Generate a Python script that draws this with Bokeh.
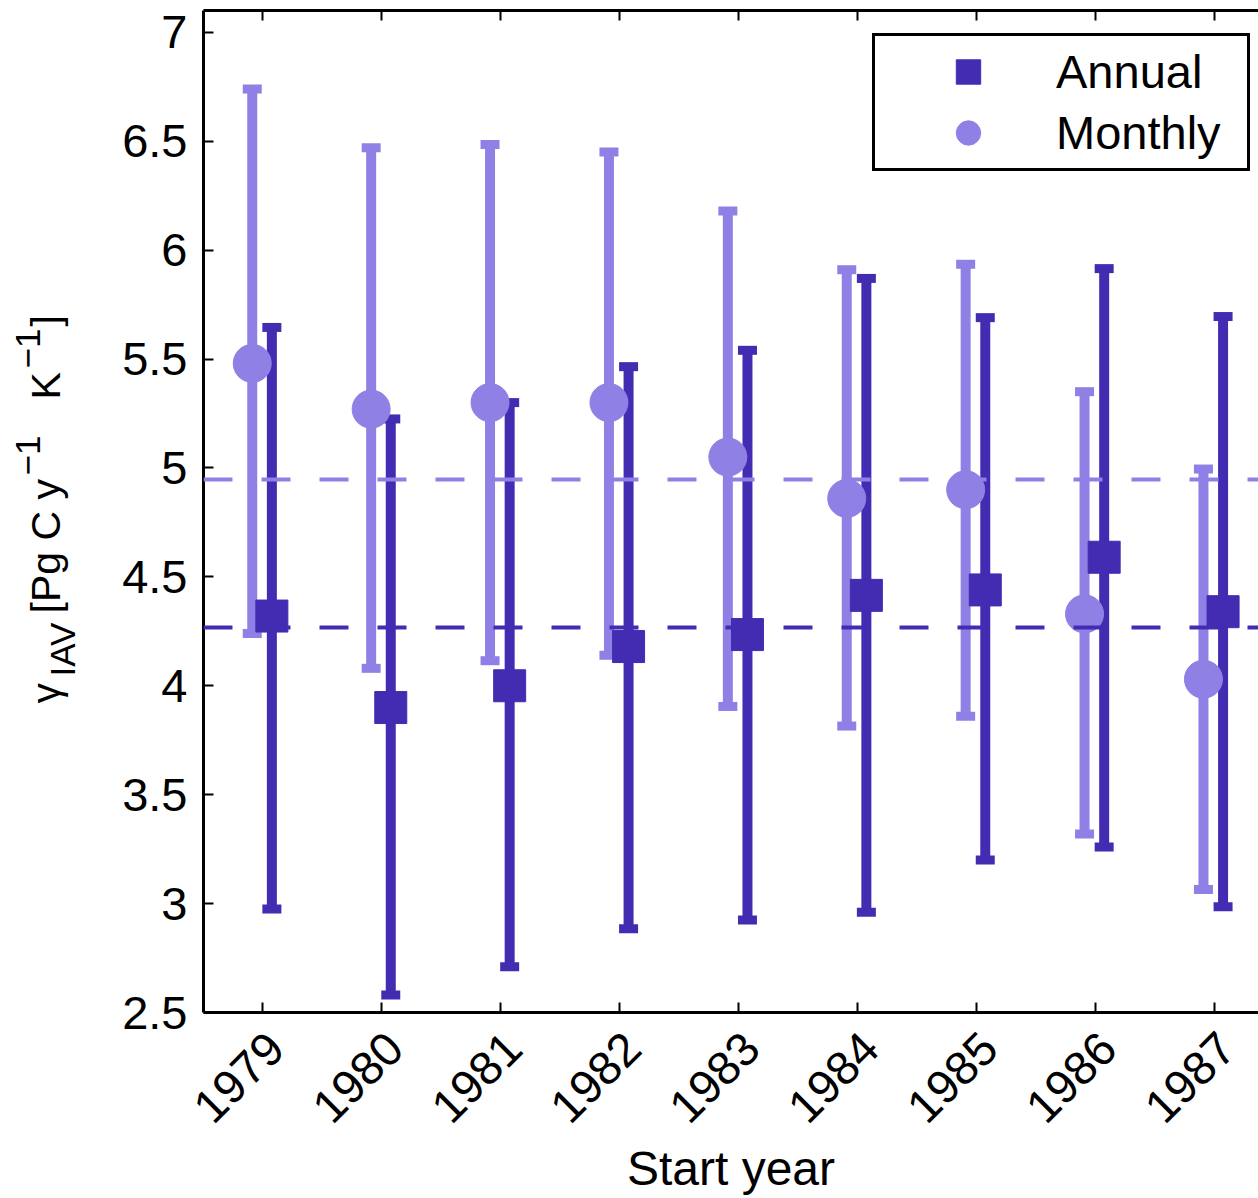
import math
from bokeh.plotting import figure
from bokeh.layouts import row
from bokeh.models import (ColumnDataSource, Whisker, TeeHead, Span, Legend, LegendItem,
                          FixedTicker, LinearAxis, NumeralTickFormatter, CustomJSTickFormatter,
                          Label, Range1d)
from bokeh.embed import file_html
from bokeh.resources import INLINE

# ---------------- data ----------------
years = [1979, 1980, 1981, 1982, 1983, 1984, 1985, 1986, 1987]

monthly_val = [5.48, 5.27, 5.30, 5.30, 5.05, 4.86, 4.90, 4.33, 4.03]
monthly_hi = [6.74, 6.47, 6.485, 6.45, 6.18, 5.91, 5.935, 5.35, 4.995]
monthly_lo = [4.24, 4.08, 4.115, 4.14, 3.905, 3.815, 3.86, 3.32, 3.065]

annual_val = [4.32, 3.90, 4.00, 4.18, 4.235, 4.415, 4.44, 4.59, 4.34]
annual_hi = [5.645, 5.225, 5.30, 5.465, 5.54, 5.87, 5.69, 5.915, 5.695]
annual_lo = [2.975, 2.58, 2.71, 2.885, 2.925, 2.96, 3.20, 3.26, 2.985]

monthly_mean = 4.947
annual_mean = 4.268

y_ticks = [2.5, 3, 3.5, 4, 4.5, 5, 5.5, 6, 6.5, 7]
series_names = ["Annual", "Monthly"]
x_label = "Start year"

# ---------------- style / layout ----------------
DARK = "#432cb2"
LIGHT = "#8f80e5"
FONT = "Liberation Sans"
FS = "47px"

W, H = 1258, 1198
LW = 100                   # width of the strip holding the y title
L, T = 203, 10             # frame left / top on the page
FB = 1012                  # frame bottom on the page
X0, X1 = 1978.5, 1987.373
Y0, Y1 = 2.5, 7.1
M_OFF, A_OFF = -0.09, 0.075
PPX = (W - L) / (X1 - X0)
LABEL_SHIFT = 13 / PPX     # year labels sit a little right of their ticks

p = figure(width=W - LW, height=H, x_range=Range1d(X0, X1), y_range=Range1d(Y0, Y1),
           output_backend="svg", toolbar_location=None,
           min_border_left=L - LW, min_border_right=0, min_border_top=T,
           min_border_bottom=H - FB,
           outline_line_color=None, background_fill_color="white", border_fill_color="white")
p.grid.visible = False

def style_ticks(ax, ticks):
    ax.ticker = FixedTicker(ticks=ticks)
    ax.major_tick_in = 10
    ax.major_tick_out = 0
    ax.minor_tick_in = 0
    ax.minor_tick_out = 0
    ax.axis_line_width = 3
    ax.major_tick_line_width = 2
    ax.major_label_text_font = FONT
    ax.major_label_text_font_size = FS
    ax.major_label_text_color = "black"

def no_labels(ax):
    ax.major_label_text_font_size = "0px"
    ax.major_label_text_alpha = 0
    ax.major_label_standoff = 0

# bottom spine with inward ticks
xa = p.xaxis[0]
style_ticks(xa, years)
no_labels(xa)

# second bottom axis: rotated year labels and the title (no line, no ticks)
xl = LinearAxis()
style_ticks(xl, [y + LABEL_SHIFT for y in years])
xl.formatter = CustomJSTickFormatter(code="return String(Math.round(tick - %r))" % LABEL_SHIFT)
xl.axis_line_color = None
xl.major_tick_line_color = None
xl.major_tick_in = 0
xl.major_label_orientation = math.pi / 4
xl.major_label_standoff = 28
xl.axis_label = x_label
xl.axis_label_text_font = FONT
xl.axis_label_text_font_size = "48px"
xl.axis_label_text_font_style = "normal"
xl.axis_label_text_color = "black"
xl.axis_label_standoff = 2
p.add_layout(xl, "below")

# left axis
ya = p.yaxis[0]
style_ticks(ya, y_ticks)
ya.formatter = NumeralTickFormatter(format="0.[0]")
ya.major_label_standoff = 16

# top spine with inward ticks, no labels
top = LinearAxis()
style_ticks(top, years)
no_labels(top)
p.add_layout(top, "above")

# ---------------- sources ----------------
src_m = ColumnDataSource(dict(x=[y + M_OFF for y in years], y=monthly_val,
                              hi=monthly_hi, lo=monthly_lo))
src_a = ColumnDataSource(dict(x=[y + A_OFF for y in years], y=annual_val,
                              hi=annual_hi, lo=annual_lo))

def whisker(src, color):
    return Whisker(source=src, base="x", upper="hi", lower="lo", dimension="height",
                   line_color=color, line_width=10,
                   upper_head=TeeHead(size=19, line_color=color, line_width=9),
                   lower_head=TeeHead(size=19, line_color=color, line_width=9))

p.add_layout(whisker(src_m, LIGHT))
p.add_layout(whisker(src_a, DARK))

sq = p.scatter(x="x", y="y", source=src_a, marker="square", size=32,
               fill_color=DARK, line_color=DARK)
ci = p.scatter(x="x", y="y", source=src_m, marker="circle", size=38,
               fill_color=LIGHT, line_color=LIGHT)

p.add_layout(Span(location=monthly_mean, dimension="width", line_color=LIGHT,
                  line_width=4, line_dash="29 29"))
p.add_layout(Span(location=annual_mean, dimension="width", line_color=DARK,
                  line_width=4, line_dash="29 29"))

legend = Legend(items=[LegendItem(label=series_names[0], renderers=[sq]),
                       LegendItem(label=series_names[1], renderers=[ci])],
                location=(669, 841), orientation="vertical",
                glyph_width=176, glyph_height=61, spacing=0, padding=5,
                label_standoff=0, label_width=186, label_height=61, margin=0,
                border_line_color="black", border_line_width=3, border_line_alpha=1,
                background_fill_color="white", background_fill_alpha=1,
                label_text_font=FONT, label_text_font_size=FS, label_text_color="black")
p.add_layout(legend)

# ---------------- left strip: y title with sub/superscripts ----------------
# its frame spans the same page rows as the main frame; y data = page pixel row
ylab = figure(width=LW, height=H, x_range=Range1d(0, LW), y_range=Range1d(FB, T),
              output_backend="svg", toolbar_location=None,
              min_border_left=0, min_border_right=0, min_border_top=T,
              min_border_bottom=H - FB,
              x_axis_location=None, y_axis_location=None, outline_line_color=None,
              background_fill_color="white", border_fill_color="white")
ylab.grid.visible = False

MAIN, SUB = "41px", "35px"
DX = -18
pieces = [
    ("γ", 63, 703, MAIN),
    ("IAV", 80, 676, SUB),
    ("[Pg C y", 63, 613, MAIN),
    ("−1", 45, 475, SUB),
    ("K", 63, 399, MAIN),
    ("−1", 45, 368, SUB),
    ("]", 63, 326, MAIN),
]
for txt, bx, by, fs in pieces:
    ylab.add_layout(Label(x=bx + DX, y=by, text=txt, angle=math.pi / 2,
                          text_align="left", text_baseline="alphabetic",
                          text_font=FONT, text_font_size=fs, text_color="black"))

layout = row(ylab, p, spacing=0)
open("out.html", "w").write(file_html(layout, INLINE))
